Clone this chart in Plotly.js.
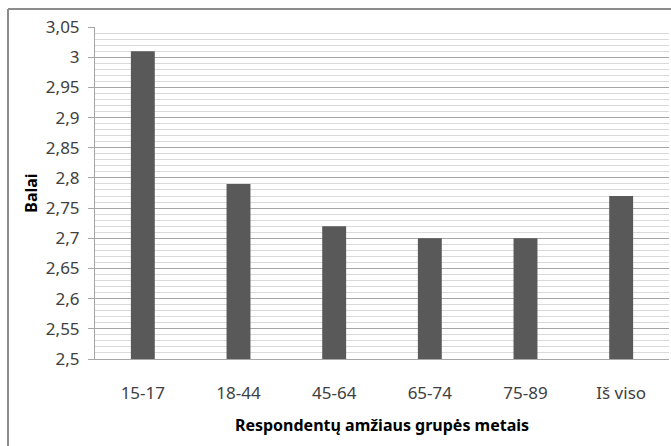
<!DOCTYPE html>
<html>
<head>
<meta charset="utf-8">
<script src="https://cdn.plot.ly/plotly-3.0.1.min.js"></script>
<style>html,body{margin:0;padding:0;background:#fff;}#chart{width:671px;height:446px;}</style>
</head>
<body>
<div id="chart"></div>
<script>
var categories = ["15-17", "18-44", "45-64", "65-74", "75-89", "Iš viso"];
var values = [3.01, 2.79, 2.72, 2.70, 2.70, 2.77];
var yTickVals = [2.5, 2.55, 2.6, 2.65, 2.7, 2.75, 2.8, 2.85, 2.9, 2.95, 3, 3.05];
var yTickText = ["2,5", "2,55", "2,6", "2,65", "2,7", "2,75", "2,8", "2,85", "2,9", "2,95", "3", "3,05"];

var fontFam = "Noto Sans, Open Sans, sans-serif";
var L = 95, R = 2, T = 27, B = 87, W = 671, H = 446;
var pw = W - L - R, ph = H - T - B;
var bx = (8 - L) / pw, by = (H - B - 9) / ph;

Plotly.newPlot("chart", [{
  type: "bar",
  x: categories,
  y: values,
  width: 0.25,
  marker: {color: "#595959", line: {width: 0}},
  hoverinfo: "x+y"
}], {
  width: W, height: H,
  margin: {l: L, r: R, t: T, b: B, pad: 0},
  paper_bgcolor: "#fff",
  plot_bgcolor: "#fff",
  showlegend: false,
  font: {family: fontFam, color: "#404040", size: 17},
  xaxis: {
    type: "category",
    showgrid: false,
    showline: true,
    linecolor: "#a6a6a6",
    linewidth: 1,
    ticks: "",
    ticklabelstandoff: 19,
    tickfont: {family: fontFam, size: 17, color: "#404040"},
    title: {text: "Respondentų amžiaus grupės metais", font: {family: fontFam, size: 16, color: "#000", weight: "bold"}, standoff: 16},
    automargin: false,
    fixedrange: true
  },
  yaxis: {
    range: [2.5, 3.05],
    tickvals: yTickVals,
    ticktext: yTickText,
    showgrid: true,
    gridcolor: "#a6a6a6",
    gridwidth: 1,
    showline: true,
    linecolor: "#a6a6a6",
    linewidth: 1,
    ticks: "outside",
    ticklen: 6,
    tickcolor: "#a6a6a6",
    ticklabelstandoff: 5,
    tickfont: {family: fontFam, size: 17, color: "#404040"},
    zeroline: false,
    minor: {dtick: 0.01, showgrid: true, gridcolor: "#d9d9d9", gridwidth: 1, ticks: ""},
    title: {text: "Balai", font: {family: fontFam, size: 16, color: "#000", weight: "bold"}, standoff: 4},
    automargin: false,
    fixedrange: true
  },
  shapes: [
    {type: "line", xref: "paper", yref: "paper", x0: bx, x1: 1.2, y0: by, y1: by, line: {color: "#8c8c8c", width: 2}},
    {type: "line", xref: "paper", yref: "paper", x0: bx, x1: bx, y0: by, y1: -0.4, line: {color: "#8c8c8c", width: 2}}
  ]
}, {displayModeBar: false, staticPlot: true});
</script>
</body>
</html>
